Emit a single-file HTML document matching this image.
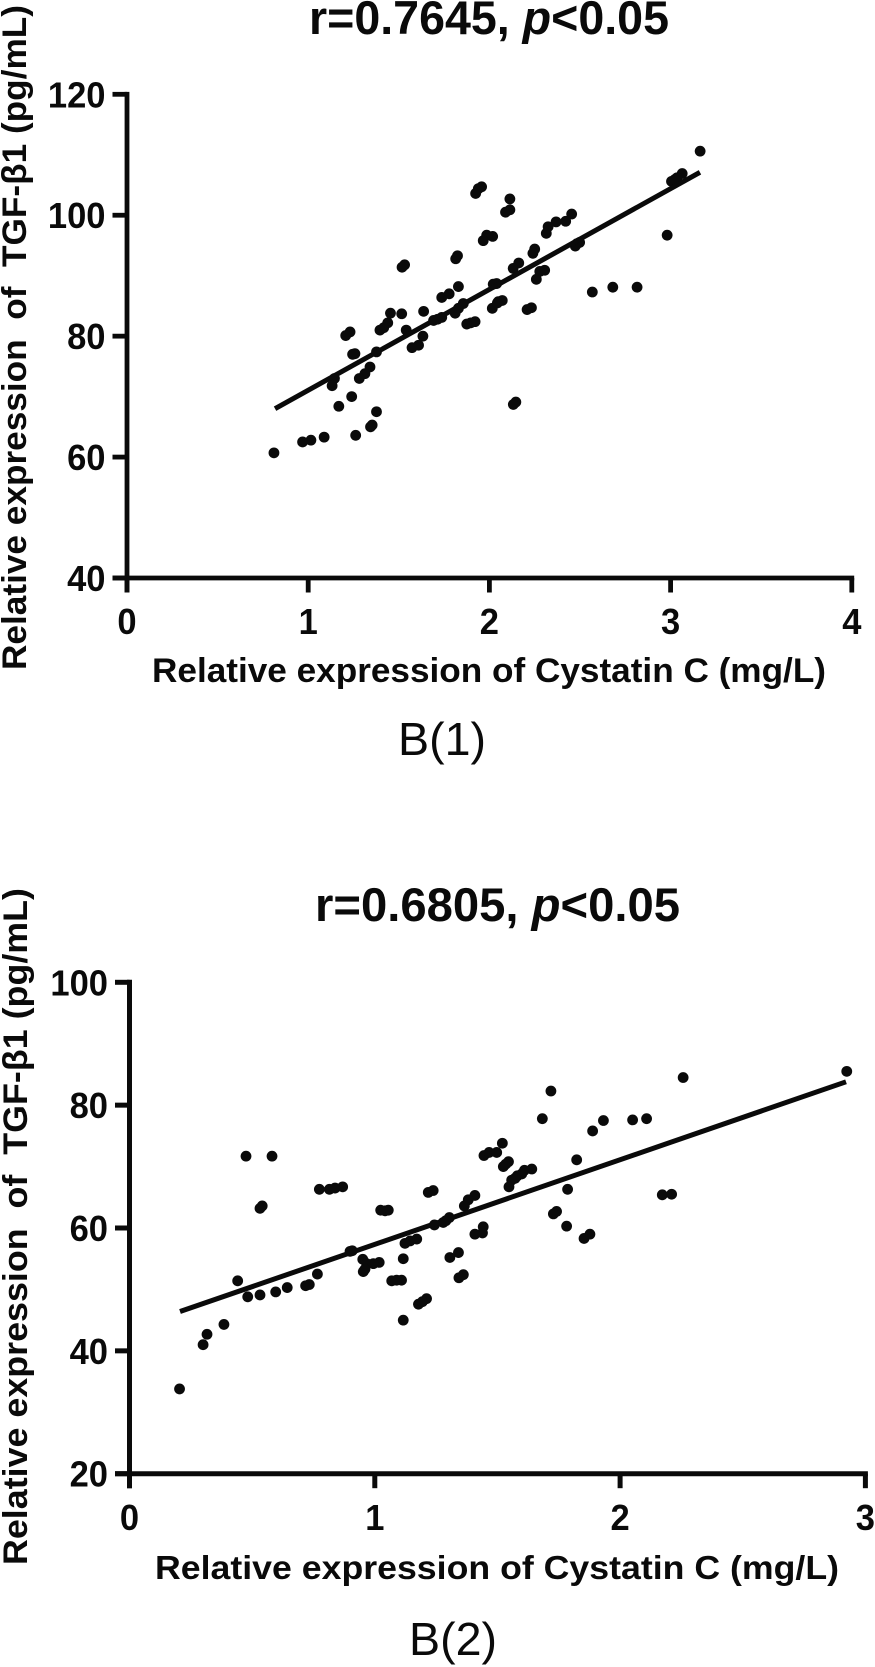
<!DOCTYPE html>
<html lang="en">
<head>
<meta charset="utf-8">
<title>Correlation of Cystatin C and TGF-β1</title>
<style>
html,body{margin:0;padding:0;background:#fff;}
svg{display:block;}
text{font-family:"Liberation Sans",sans-serif;fill:#0a0a0a;white-space:pre;}
.tick{font-weight:bold;font-size:36.5px;}
.axt{font-weight:bold;}
.ttl{font-weight:bold;font-size:47px;}
.cap{font-size:46px;}
</style>
</head>
<body>
<svg id="figure" xmlns="http://www.w3.org/2000/svg" width="875" height="1667" viewBox="0 0 875 1667">
  <rect x="0" y="0" width="875" height="1667" fill="#fff"/>

  <text class="ttl" x="309" y="34" textLength="360" lengthAdjust="spacingAndGlyphs">r=0.7645, <tspan font-style="italic">p</tspan>&lt;0.05</text>
  <g id="chart1"></g>
  <text class="axt" font-size="34" x="152" y="682" textLength="674" lengthAdjust="spacingAndGlyphs">Relative expression of Cystatin C (mg/L)</text>
  <text class="axt" font-size="34" transform="translate(26,670) rotate(-90)" textLength="665" lengthAdjust="spacingAndGlyphs">Relative expression  of  TGF-β1 (pg/mL)</text>
  <text class="cap" x="398" y="755" textLength="88" lengthAdjust="spacingAndGlyphs">B(1)</text>

  <text class="ttl" x="315" y="921" textLength="365" lengthAdjust="spacingAndGlyphs">r=0.6805, <tspan font-style="italic">p</tspan>&lt;0.05</text>
  <g id="chart2"></g>
  <text class="axt" font-size="33" x="155" y="1579" textLength="684" lengthAdjust="spacingAndGlyphs">Relative expression of Cystatin C (mg/L)</text>
  <text class="axt" font-size="34" transform="translate(27,1565) rotate(-90)" textLength="677" lengthAdjust="spacingAndGlyphs">Relative expression  of  TGF-β1 (pg/mL)</text>
  <text class="cap" x="409" y="1655" textLength="88" lengthAdjust="spacingAndGlyphs">B(2)</text>
</svg>
<script>
const chart1XTicks = [0, 1, 2, 3, 4];
const chart1YTicks = [40, 60, 80, 100, 120];
const chart1LineX = [0.817, 3.162];
const chart1LineY = [68.0, 107.1];
const chart1X = [1.957,1.939,1.924,2.018,1.985,1.966,1.824,1.814,1.532,1.518,1.829,1.778,1.737,2.040,2.016,2.049,1.856,1.829,1.811,1.921,1.897,1.875,1.737,1.714,1.692,1.637,1.454,1.516,1.439,1.417,1.396,1.541,1.231,1.207,1.258,1.245,1.377,1.633,1.609,1.573,1.341,1.313,1.282,1.145,1.132,1.240,1.169,1.377,1.353,1.344,1.262,1.088,1.015,0.969,0.811,2.113,2.113,2.089,2.454,2.421,2.368,2.324,2.314,2.250,2.240,2.162,2.131,2.021,2.071,2.044,2.483,2.474,2.498,2.305,2.278,2.259,2.232,2.208,2.146,2.132,2.568,2.681,2.815,2.981,3.163,3.064,3.036,3.005,3.023];
const chart1Y = [104.7,104.4,103.6,96.5,96.7,95.8,93.3,92.8,91.8,91.4,88.2,87.0,86.4,88.7,84.6,85.7,85.4,84.6,83.8,82.4,82.2,82.0,83.1,82.8,82.6,84.1,83.8,83.7,82.2,81.4,81.0,81.0,80.7,80.1,77.1,77.0,77.4,80.0,78.5,78.1,74.9,73.8,73.0,73.0,71.8,70.0,68.4,67.5,65.3,65.0,63.6,63.3,62.8,62.5,60.7,102.7,100.9,100.5,100.2,99.0,98.9,98.1,97.0,94.4,93.7,92.1,91.2,88.6,85.9,85.5,95.3,94.9,95.5,90.9,90.7,89.4,84.7,84.4,69.1,68.7,87.3,88.1,88.1,96.7,110.6,106.9,106.2,105.6,105.9];

const chart2XTicks = [0, 1, 2, 3];
const chart2YTicks = [20, 40, 60, 80, 100];
const chart2LineX = [0.206, 2.921];
const chart2LineY = [46.4, 83.8];
const chart2X = [0.475,0.581,0.541,0.532,0.774,0.815,0.838,0.869,0.908,0.899,0.951,0.967,1.018,0.994,0.953,0.960,1.042,1.055,1.024,1.218,1.238,1.116,1.109,1.069,1.089,1.116,1.211,1.178,1.194,1.171,1.144,1.123,1.243,1.279,1.304,1.290,1.408,1.381,1.365,1.442,1.439,1.408,1.341,1.306,1.361,1.343,0.441,0.482,0.532,0.596,0.643,0.733,0.718,0.766,0.385,0.316,0.300,0.204,1.445,1.466,1.497,1.520,1.545,1.524,1.534,1.640,1.610,1.581,1.558,1.547,1.599,1.572,1.718,1.683,1.932,1.888,2.051,2.108,2.257,2.924,1.823,1.786,1.741,1.728,1.782,1.877,1.853,2.172,2.210];
const chart2Y = [71.7,71.7,63.6,63.2,66.3,66.3,66.5,66.7,56.3,56.2,54.9,54.2,54.4,54.2,52.9,53.3,62.8,62.9,62.9,65.8,66.1,55.0,51.5,51.4,51.5,45.0,48.5,47.6,48.0,58.2,57.9,57.5,60.5,60.9,61.7,61.2,65.3,64.6,63.6,60.2,59.2,59.0,56.0,55.2,52.4,51.9,51.4,48.8,49.1,49.6,50.3,50.8,50.6,52.5,44.3,42.7,41.0,33.8,71.8,72.3,72.3,73.8,70.8,70.0,70.4,69.6,69.4,68.5,67.8,66.7,68.8,68.1,82.3,77.8,77.5,75.8,77.6,77.8,84.5,85.5,71.1,66.3,62.7,62.3,60.3,59.0,58.3,65.4,65.5];

const SVGNS = 'http://www.w3.org/2000/svg';

function line(parent, x1, y1, x2, y2, w) {
  const l = document.createElementNS(SVGNS, 'line');
  l.setAttribute('x1', x1);
  l.setAttribute('y1', y1);
  l.setAttribute('x2', x2);
  l.setAttribute('y2', y2);
  l.setAttribute('stroke', '#0a0a0a');
  l.setAttribute('stroke-width', w);
  parent.appendChild(l);
  return l;
}

function drawChart(opts) {
  const g = document.getElementById(opts.id);
  const xTicks = opts.xTicks, yTicks = opts.yTicks;
  const xMin = xTicks[0], xMax = xTicks[xTicks.length - 1];
  const yMin = yTicks[0], yMax = yTicks[yTicks.length - 1];
  const sx = v => opts.left + (v - xMin) / (xMax - xMin) * (opts.right - opts.left);
  const sy = v => opts.bottom - (v - yMin) / (yMax - yMin) * (opts.bottom - opts.top);
  const w = opts.axisWidth;

  const yAxis = line(g, sx(xMin), sy(yMax) - w / 2, sx(xMin), opts.bottom + opts.tickLen, w);
  
  
  const xAxis = line(g, opts.left - opts.tickLen, sy(yMin), sx(xMax) + w / 2, sy(yMin), w);
  
  

  yTicks.forEach(function (t) {
    const tk = line(g, opts.left - opts.tickLen, sy(t), opts.left, sy(t), w);
    
    
    const lb = document.createElementNS(SVGNS, 'text');
    lb.setAttribute('class', 'tick');
    lb.setAttribute('text-anchor', 'end');
    lb.setAttribute('x', opts.left - opts.tickLen - opts.yLabelGap);
    lb.setAttribute('y', sy(t) + 13);
    lb.setAttribute('textLength', String(t).length * 19.2);
    lb.setAttribute('lengthAdjust', 'spacingAndGlyphs');
    
    
    lb.textContent = t;
    g.appendChild(lb);
  });

  xTicks.forEach(function (t) {
    const tk = line(g, sx(t), opts.bottom, sx(t), opts.bottom + opts.tickLen, w);
    
    
    const lb = document.createElementNS(SVGNS, 'text');
    lb.setAttribute('class', 'tick');
    lb.setAttribute('text-anchor', 'middle');
    lb.setAttribute('x', sx(t));
    lb.setAttribute('y', opts.xLabelBaseline);
    lb.setAttribute('textLength', String(t).length * 19.2);
    lb.setAttribute('lengthAdjust', 'spacingAndGlyphs');
    
    
    lb.textContent = t;
    g.appendChild(lb);
  });

  opts.xs.forEach(function (v, i) {
    const c = document.createElementNS(SVGNS, 'circle');
    c.setAttribute('cx', sx(v));
    c.setAttribute('cy', sy(opts.ys[i]));
    c.setAttribute('r', 5.4);
    c.setAttribute('fill', '#0a0a0a');
    
    
    g.appendChild(c);
  });

  const fit = line(g, sx(opts.lineX[0]), sy(opts.lineY[0]), sx(opts.lineX[1]), sy(opts.lineY[1]), 5);
  
  
}

drawChart({
  id: 'chart1', xTicks: chart1XTicks, yTicks: chart1YTicks, xs: chart1X, ys: chart1Y,
  lineX: chart1LineX, lineY: chart1LineY,
  left: 127, right: 851.8, top: 94.3, bottom: 578,
  axisWidth: 4.8, tickLen: 14.5, yLabelGap: 7, xLabelBaseline: 634
});
drawChart({
  id: 'chart2', xTicks: chart2XTicks, yTicks: chart2YTicks, xs: chart2X, ys: chart2Y,
  lineX: chart2LineX, lineY: chart2LineY,
  left: 129.5, right: 865.4, top: 982.3, bottom: 1473.7,
  axisWidth: 5, tickLen: 14.5, yLabelGap: 7, xLabelBaseline: 1530
});
</script>
</body>
</html>
